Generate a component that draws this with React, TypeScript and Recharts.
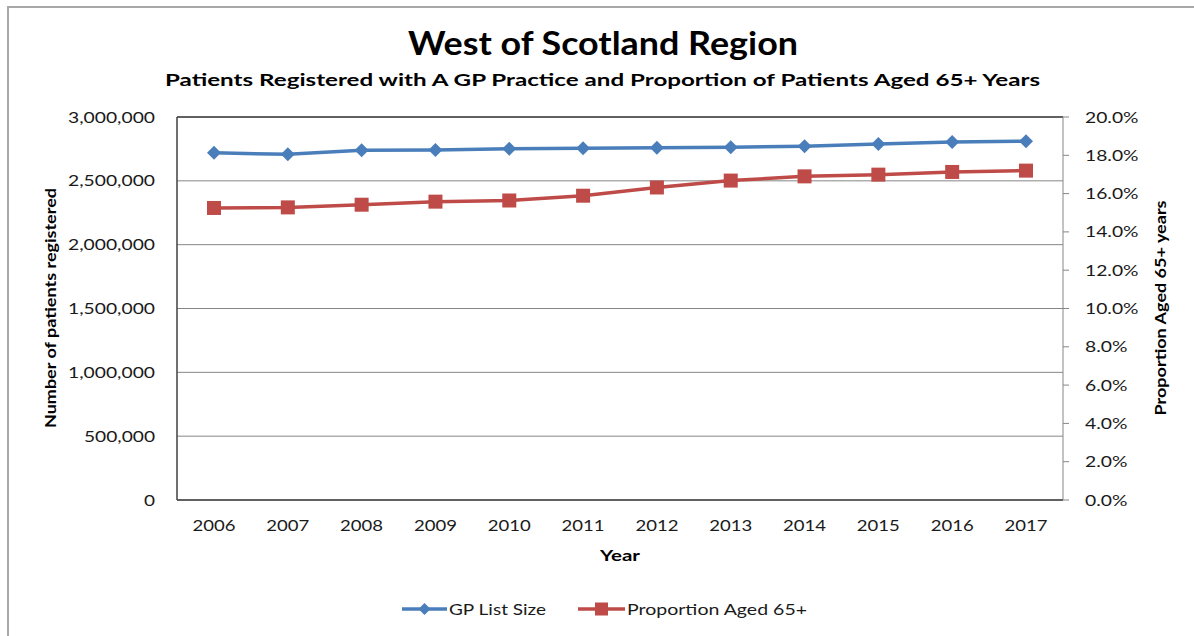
import React from 'react';
import { LineChart, Line, XAxis, YAxis, CartesianGrid, ReferenceLine } from 'recharts';

const years = ['2006', '2007', '2008', '2009', '2010', '2011', '2012', '2013', '2014', '2015', '2016', '2017'];
const gpListSize = [2719000, 2708000, 2739000, 2742000, 2752000, 2755000, 2760000, 2763000, 2771000, 2789000, 2805000, 2810000];
const proportionAged65 = [15.25, 15.28, 15.42, 15.58, 15.64, 15.89, 16.32, 16.68, 16.9, 16.99, 17.13, 17.2];
const leftTicks = [0, 500000, 1000000, 1500000, 2000000, 2500000, 3000000];
const rightTicks = [0, 2, 4, 6, 8, 10, 12, 14, 16, 18, 20];

const data = years.map((y, i) => ({ year: y, gp: gpListSize[i], prop: proportionAged65[i] }));

const BLUE = '#4a7ebb';
const RED = '#be4b48';
const FONT = 'Lato, "Open Sans", sans-serif';
const TXT = '#1a1a1a';

const charW = (c: string) => (/[0-9]/.test(c) ? 11 : c === ',' || c === '.' ? 5 : c === '%' ? 15.5 : 9);
const strW = (s: string) => s.split('').reduce((a, c) => a + charW(c), 0);

const fmtLeft = (v: number) => v.toLocaleString('en-US');
const fmtRight = (v: number) => `${v.toFixed(1)}%`;

const LeftTick = (props: any) => {
  const { x, y, payload } = props;
  const s = fmtLeft(payload.value);
  return (
    <text x={x} y={y} dy={5.5} textAnchor="end" textLength={strW(s)} lengthAdjust="spacingAndGlyphs" fontFamily={FONT} fontSize={16} fill={TXT}>
      {s}
    </text>
  );
};

const RightTick = (props: any) => {
  const { x, y, payload } = props;
  const s = fmtRight(payload.value);
  return (
    <text x={x} y={y} dy={5.5} textAnchor="start" textLength={strW(s)} lengthAdjust="spacingAndGlyphs" fontFamily={FONT} fontSize={16} fill={TXT}>
      {s}
    </text>
  );
};

const XTick = (props: any) => {
  const { x, y, payload } = props;
  const s = String(payload.value);
  return (
    <text x={x} y={y} dy={31} textAnchor="middle" textLength={strW(s) - 1} lengthAdjust="spacingAndGlyphs" fontFamily={FONT} fontSize={16} fill={TXT}>
      {s}
    </text>
  );
};

const Diamond = (props: any) => {
  const { cx, cy } = props;
  if (cx == null || cy == null) return null;
  const r = 7;
  return <polygon points={`${cx},${cy - r} ${cx + r},${cy} ${cx},${cy + r} ${cx - r},${cy}`} fill={BLUE} />;
};

const Square = (props: any) => {
  const { cx, cy } = props;
  if (cx == null || cy == null) return null;
  const s = 14;
  return <rect x={cx - s / 2} y={cy - s / 2} width={s} height={s} fill={RED} />;
};

export default function App() {
  return (
    <div style={{ position: 'absolute', left: 0, top: 0, width: 1194, height: 636, background: '#fff', overflow: 'hidden' }}>
      <div style={{ position: 'absolute', left: 7, top: 6, width: 1300, height: 700, borderTop: '2px solid #a8a8a8', borderLeft: '2px solid #a8a8a8' }} />
      <div style={{ position: 'absolute', left: 0, top: 0 }}>
        <LineChart width={1194} height={636} data={data} margin={{ top: 117, right: 0, left: 0, bottom: 106 }}>
          <CartesianGrid yAxisId="left" vertical={false} stroke="#868686" strokeWidth={1} />
          <XAxis
            dataKey="year"
            height={30}
            padding={{ left: 37, right: 37 }}
            tickLine={false}
            tickSize={0}
            tickMargin={0}
            axisLine={{ stroke: '#404040', strokeWidth: 1.5 }}
            tick={<XTick />}
            interval={0}
          />
          <YAxis
            yAxisId="left"
            orientation="left"
            width={177}
            domain={[0, 3000000]}
            ticks={leftTicks}
            tickLine={false}
            tickSize={0}
            tickMargin={22}
            axisLine={{ stroke: '#404040', strokeWidth: 1.5 }}
            tick={<LeftTick />}
            interval={0}
          />
          <YAxis
            yAxisId="right"
            orientation="right"
            width={131}
            domain={[0, 20]}
            ticks={rightTicks}
            tickLine={{ stroke: '#868686' }}
            tickSize={6}
            tickMargin={16}
            axisLine={{ stroke: '#868686' }}
            tick={<RightTick />}
            interval={0}
          />
          <ReferenceLine yAxisId="left" y={3000000} stroke="#404040" strokeWidth={1.5} />
          <Line
            yAxisId="left"
            type="linear"
            dataKey="gp"
            stroke={BLUE}
            strokeWidth={3.5}
            dot={<Diamond />}
            activeDot={false}
            isAnimationActive={false}
          />
          <Line
            yAxisId="right"
            type="linear"
            dataKey="prop"
            stroke={RED}
            strokeWidth={3.5}
            dot={<Square />}
            activeDot={false}
            isAnimationActive={false}
          />
        </LineChart>
      </div>
      <svg width={1194} height={636} style={{ position: 'absolute', left: 0, top: 0, pointerEvents: 'none' }}>
        <text x={603} y={55} textAnchor="middle" textLength={390} lengthAdjust="spacingAndGlyphs" fontFamily={FONT} fontWeight={700} fontSize={32} fill="#000">
          West of Scotland Region
        </text>
        <text x={602.5} y={86} textAnchor="middle" textLength={875} lengthAdjust="spacingAndGlyphs" fontFamily={FONT} fontWeight={700} fontSize={17} fill="#000">
          Patients Registered with A GP Practice and Proportion of Patients Aged 65+ Years
        </text>
        <text transform="translate(51,308) rotate(-90)" textAnchor="middle" dy={5} textLength={240} lengthAdjust="spacingAndGlyphs" fontFamily={FONT} fontWeight={700} fontSize={15} fill="#000">
          Number of patients registered
        </text>
        <text transform="translate(1161,308) rotate(-90)" textAnchor="middle" dy={5} textLength={215} lengthAdjust="spacingAndGlyphs" fontFamily={FONT} fontWeight={700} fontSize={15} fill="#000">
          Proportion Aged 65+ years
        </text>
        <text x={620} y={561} textAnchor="middle" textLength={40} lengthAdjust="spacingAndGlyphs" fontFamily={FONT} fontWeight={700} fontSize={16} fill="#000">
          Year
        </text>
        <line x1={402} y1={609} x2={447} y2={609} stroke={BLUE} strokeWidth={3.5} />
        <polygon points="424.5,603 430.5,609 424.5,615 418.5,609" fill={BLUE} />
        <text x={449} y={614.5} textLength={97} lengthAdjust="spacingAndGlyphs" fontFamily={FONT} fontSize={16} fill={TXT}>
          GP List Size
        </text>
        <line x1={578} y1={609} x2={625} y2={609} stroke={RED} strokeWidth={3.5} />
        <rect x={595} y={602.5} width={13} height={13} fill={RED} />
        <text x={627} y={614.5} textLength={180} lengthAdjust="spacingAndGlyphs" fontFamily={FONT} fontSize={16} fill={TXT}>
          Proportion Aged 65+
        </text>
      </svg>
    </div>
  );
}
